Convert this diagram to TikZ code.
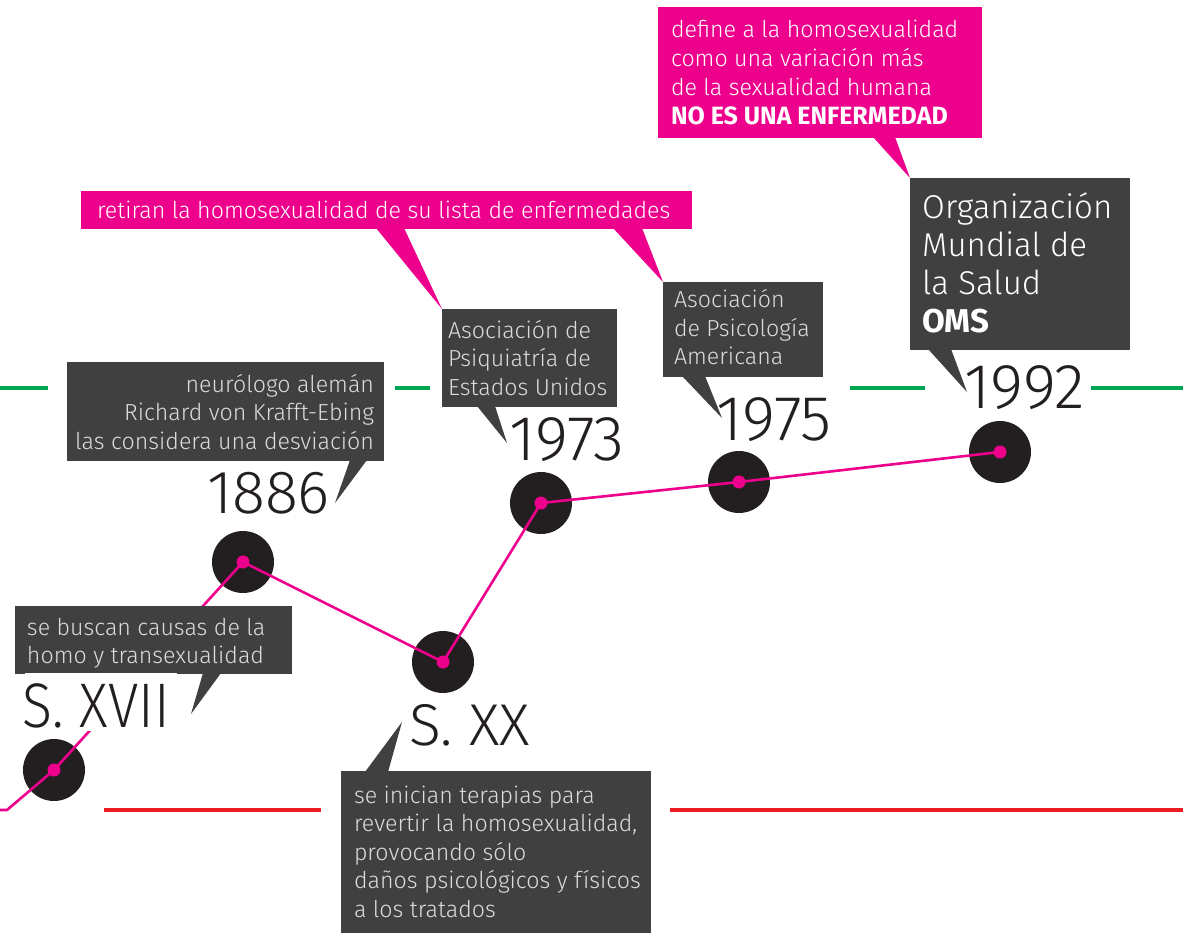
\documentclass[tikz,border=0pt]{standalone}
\usepackage{fontspec}
\usetikzlibrary{calc}
\IfFontExistsTF{Fira Sans Light}{%
  \setmainfont{Fira Sans Light}[BoldFont={Fira Sans Bold}]
  \newfontfamily\yearfont{Fira Sans Light}
  \newfontfamily\yearfontn{Fira Sans Light}[FakeStretch=0.88]
}{%
  \setmainfont{Fira Sans}
  \newfontfamily\yearfont{Fira Sans}
  \newfontfamily\yearfontn{Fira Sans}[FakeStretch=0.88]
}
\definecolor{boxgray}{HTML}{404040}
\definecolor{boxtext}{HTML}{DCDCDC}
\definecolor{mag}{HTML}{EC008C}
\definecolor{grn}{HTML}{00A651}
\definecolor{rd}{HTML}{ED1C24}
\definecolor{ink}{HTML}{231F20}
\newcommand\LinesL[2]{\vtop{\baselineskip=#1\relax\lineskiplimit=-1000pt\lineskip=0pt\halign{##\hfil\cr#2\crcr}}}
\newcommand\LinesR[2]{\vtop{\baselineskip=#1\relax\lineskiplimit=-1000pt\lineskip=0pt\halign{\hfil##\cr#2\crcr}}}
\tikzset{
  grnline/.style={draw=grn, line width=4.5pt},
  redline/.style={draw=rd, line width=4.5pt},
  pinkline/.style={draw=mag, line width=2.6pt, line join=round},
  bigdot/.style={circle, fill=ink, minimum size=62pt, inner sep=0pt},
  pdot/.style={circle, fill=mag, minimum size=13pt, inner sep=0pt},
  dbox/.style={fill=boxgray, inner sep=0pt, outer sep=0pt, anchor=north west},
  mbox/.style={fill=mag, inner sep=0pt, outer sep=0pt, anchor=north west},
  txt/.style={inner sep=0pt, outer sep=0pt, text=boxtext, font=\fontsize{23.2}{28}\selectfont},
  wtxt/.style={inner sep=0pt, outer sep=0pt, text=white, font=\fontsize{23.2}{28}\selectfont},
  year/.style={inner sep=0pt, outer sep=0pt, anchor=base west, text=ink, font=\yearfont\fontsize{61}{61}\selectfont},
  bigyear/.style={year, font=\yearfont\fontsize{63.5}{63.5}\selectfont},
}
\begin{document}
\begin{tikzpicture}[x=1pt, y=-1pt]
\useasboundingbox (0,0) rectangle (1183,933);
% background lines
\draw[grnline] (0,388) -- (48,388);
\draw[grnline] (395,388) -- (430,388);
\draw[grnline] (850,388) -- (925,388);
\draw[grnline] (1091,388) -- (1183,388);
\draw[redline] (104,810) -- (321,810);
\draw[redline] (670,810) -- (1183,810);
% circles
\node[bigdot] (n1) at (54,770) {};
\node[bigdot] (n2) at (243,562) {};
\node[bigdot] (n3) at (443,662) {};
\node[bigdot] (n4) at (541,503) {};
\node[bigdot] (n5) at (739,482) {};
\node[bigdot] (n6) at (1000,452) {};
\coordinate (s0) at (0,810);
\coordinate (s1) at (7,810);
\draw[pinkline] (s0) -- (s1) -- (n1.center) -- (n2.center) -- (n3.center) -- (n4.center) -- (n5.center) -- (n6.center);
\node[pdot] (p1) at (n1.center) {};
\node[pdot] (p2) at (n2.center) {};
\node[pdot] (p3) at (n3.center) {};
\node[pdot] (p4) at (n4.center) {};
\node[pdot] (p5) at (n5.center) {};
\node[pdot] (p6) at (n6.center) {};
% tips
\coordinate (tip1) at (335,503);
\coordinate (tip2) at (191,714);
\coordinate (tip3) at (402,722);
\coordinate (tip4) at (507,443);
\coordinate (tip5) at (722,418);
\coordinate (tip6) at (967,392);
% box 1 (1886)
\node[dbox, minimum width=317pt, minimum height=99pt] (b1) at (67,362) {};
\fill[boxgray] ($(b1.south west)+(283,-1)$) -- ($(b1.south west)+(300,-1)$) -- (tip1) -- cycle;
\node[txt, anchor=base east] (t1) at (374,392) {\LinesR{28.5pt}{neurólogo alemán\cr Richard von Krafft-Ebing\cr las considera una desviación}};
% box 2 (S. XVII)
\node[dbox, minimum width=277pt, minimum height=68pt] (b2) at (15,606) {};
\fill[boxgray] ($(b2.south west)+(188,-1)$) -- ($(b2.south west)+(206,-1)$) -- (tip2) -- cycle;
\node[txt, anchor=base west] (t2) at (27,635) {\LinesL{28.5pt}{se buscan causas de la\cr homo y transexualidad}};
% box 3 (S. XX)
\node[dbox, minimum width=310pt, minimum height=163pt] (b3) at (341,771) {};
\fill[boxgray] ($(b3.north west)+(24,1)$) -- ($(b3.north west)+(47,1)$) -- (tip3) -- cycle;
\node[txt, anchor=base west] (t3) at (354,803) {\LinesL{28.5pt}{se inician terapias para\cr revertir la homosexualidad,\cr provocando sólo\cr daños psicológicos y físicos\cr a los tratados}};
% box 4 (1973)
\node[dbox, minimum width=175pt, minimum height=98pt] (b4) at (442,309) {};
\fill[boxgray] ($(b4.south west)+(35,-1)$) -- ($(b4.south west)+(53,-1)$) -- (tip4) -- cycle;
\node[txt, anchor=base west] (t4) at (448,338) {\LinesL{28.5pt}{Asociación de\cr Psiquiatría de\cr Estados Unidos}};
% box 5 (1975)
\node[dbox, minimum width=160pt, minimum height=95pt] (b5) at (663,282) {};
\fill[boxgray] ($(b5.south west)+(19,-1)$) -- ($(b5.south west)+(42,-1)$) -- (tip5) -- cycle;
\node[txt, anchor=base west] (t5) at (674,308) {\LinesL{28.5pt}{Asociación\cr de Psicología\cr Americana}};
% box 6 (1992)
\node[dbox, minimum width=220pt, minimum height=172pt] (b6) at (910,178) {};
\fill[boxgray] ($(b6.south west)+(18,-1)$) -- ($(b6.south west)+(41,-1)$) -- (tip6) -- cycle;
\node[inner sep=0pt, anchor=base west, text=white, font=\fontsize{33}{38}\selectfont] (t6) at (922,219) {\LinesL{38pt}{Organización\cr Mundial de\cr la Salud\cr \textbf{OMS}}};
% magenta box 1
\node[mbox, minimum width=611pt, minimum height=38pt] (m1) at (81,191) {};
\fill[mag] ($(m1.south west)+(295,-1)$) -- ($(m1.south west)+(323,-1)$) -- (b4.north west) -- cycle;
\fill[mag] ($(m1.south west)+(532,-1)$) -- ($(m1.south west)+(561,-1)$) -- (b5.north west) -- cycle;
\node[wtxt, anchor=base west] (mt1) at (97,219) {retiran la homosexualidad de su lista de enfermedades};
% magenta box 2
\node[mbox, minimum width=324pt, minimum height=131pt] (m2) at (658,7) {};
\fill[mag] ($(m2.south west)+(215,-1)$) -- ($(m2.south west)+(237,-1)$) -- (b6.north west) -- cycle;
\node[wtxt, anchor=base west] (mt2) at (671,38) {\LinesL{29pt}{define a la homosexualidad\cr como una variación más\cr de la sexualidad humana\cr \fontsize{25}{29}\selectfont\textbf{NO ES UNA ENFERMEDAD}}};
% years
\fill[white] (25,673) rectangle (177,731);
\node[year, font=\yearfontn\fontsize{63}{63}\selectfont] (y1) at (23,727) {S. XVII};
\node[year] (y2) at (207,513) {1886};
\node[year, font=\yearfont\fontsize{59}{59}\selectfont] (y3) at (409,745) {S. XX};
\node[bigyear] (y4) at (509,460) {1973};
\node[bigyear] (y5) at (716,440) {1975};
\node[bigyear] (y6) at (964,408) {1992};
\end{tikzpicture}
\end{document}
